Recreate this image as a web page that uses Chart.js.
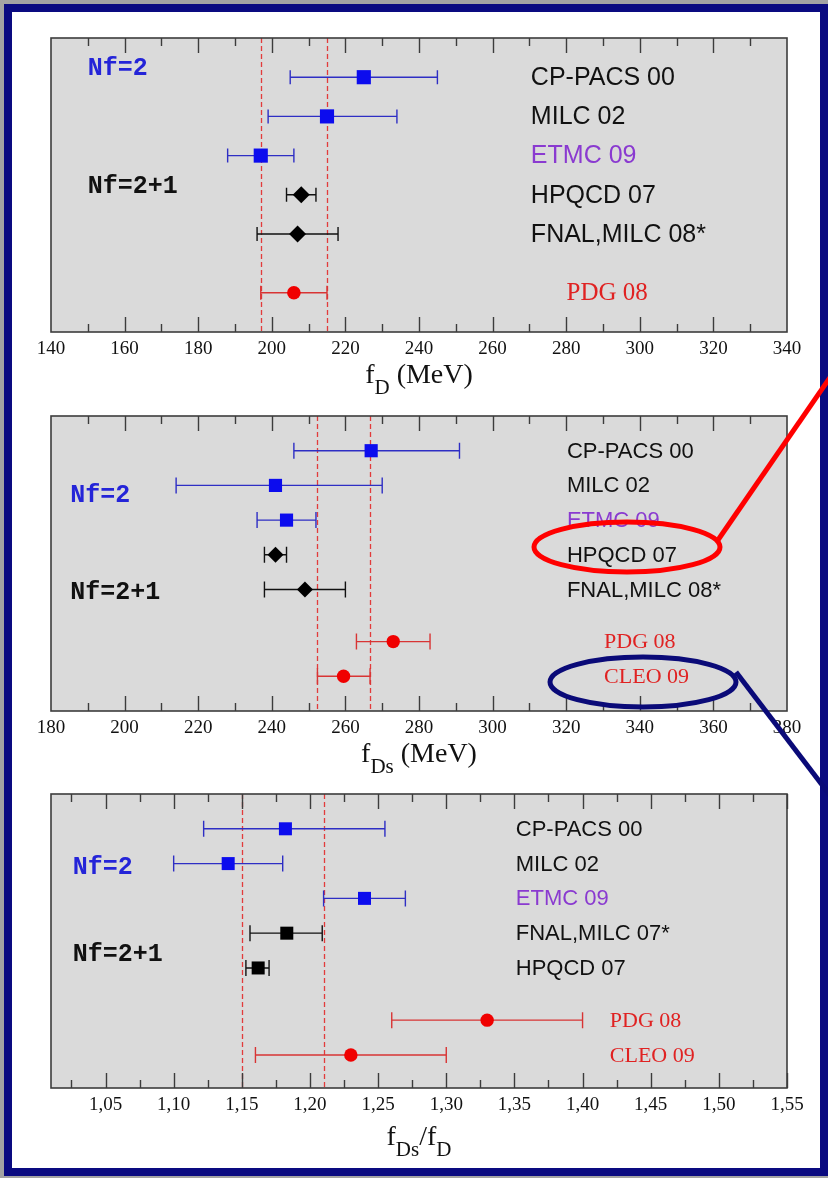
<!DOCTYPE html>
<html>
<head>
<meta charset="utf-8">
<script src="https://cdn.jsdelivr.net/npm/chart.js@4/dist/chart.umd.min.js"></script>
<style>
  html, body { margin: 0; padding: 0; }
  body { width: 828px; height: 1178px; background: #a3a3a3; position: relative; overflow: hidden; }
  #frame { position: absolute; left: 4px; top: 4px; width: 808px; height: 1156px; border: 8px solid #0a0a80; background: #fff; }
  canvas { position: absolute; left: 0; }
  #fdChart { top: 0; z-index: 1; }
  #fdsChart { top: 340px; z-index: 3; }
  #ratioChart { top: 760px; z-index: 2; }
</style>
</head>
<body>
<div id="frame"></div>
<canvas id="fdChart" width="828" height="400"></canvas>
<canvas id="fdsChart" width="828" height="490"></canvas>
<canvas id="ratioChart" width="828" height="418"></canvas>
<script>
// f_D (MeV)
const fdLabels = ['CP-PACS 00', 'MILC 02', 'ETMC 09', 'HPQCD 07', 'FNAL,MILC 08*', 'PDG 08'];
const fdCentral = [225, 215, 197, 208, 207, 206];
const fdLow = [205, 199, 188, 204, 196, 197];
const fdHigh = [245, 234, 206, 212, 218, 215];
const fdRows = [1, 2, 3, 4, 5, 6.5];
const fdGroups = ['nf2', 'nf2', 'nf2', 'nf21', 'nf21', 'exp'];
const fdBand = [197, 215];
const fdMajorTicks = [160, 180, 200, 220, 240, 260, 280, 300, 320];
const fdMinorTicks = [150, 170, 190, 210, 230, 250, 270, 290, 310, 330];

// f_Ds (MeV)
const fdsLabels = ['CP-PACS 00', 'MILC 02', 'ETMC 09', 'HPQCD 07', 'FNAL,MILC 08*', 'PDG 08', 'CLEO 09'];
const fdsCentral = [267, 241, 244, 241, 249, 273, 259.5];
const fdsLow = [246, 214, 236, 238, 238, 263, 252.4];
const fdsHigh = [291, 270, 252, 244, 260, 283, 266.7];
const fdsRows = [1, 2, 3, 4, 5, 6.5, 7.5];
const fdsGroups = ['nf2', 'nf2', 'nf2', 'nf21', 'nf21', 'exp', 'exp'];
const fdsBand = [252.4, 266.7];
const fdsMajorTicks = [200, 220, 240, 260, 280, 300, 320, 340, 360];
const fdsMinorTicks = [190, 210, 230, 250, 270, 290, 310, 330, 350, 370];

// f_Ds / f_D
const ratioLabels = ['CP-PACS 00', 'MILC 02', 'ETMC 09', 'FNAL,MILC 07*', 'HPQCD 07', 'PDG 08', 'CLEO 09'];
const ratioCentral = [1.182, 1.14, 1.24, 1.183, 1.162, 1.33, 1.23];
const ratioLow = [1.122, 1.10, 1.21, 1.156, 1.153, 1.26, 1.16];
const ratioHigh = [1.255, 1.18, 1.27, 1.209, 1.170, 1.40, 1.30];
const ratioRows = [1, 2, 3, 4, 5, 6.5, 7.5];
const ratioGroups = ['nf2', 'nf2', 'nf2', 'nf21sq', 'nf21sq', 'exp', 'exp'];
const ratioBand = [1.15, 1.21];
const ratioTickLabels = [1.05, 1.10, 1.15, 1.20, 1.25, 1.30, 1.35, 1.40, 1.45, 1.50, 1.55];
const ratioMinorTicks = [1.025, 1.075, 1.125, 1.175, 1.225, 1.275, 1.325, 1.375, 1.425, 1.475, 1.525];

const groupStyles = {
    nf2: { pointStyle: 'rect', color: '#0c0cee', bar: '#2e2ec4' },
    nf21: { pointStyle: 'rectRot', color: '#000000', bar: '#111111' },
    nf21sq: { pointStyle: 'rect', color: '#000000', bar: '#111111' },
    exp: { pointStyle: 'circle', color: '#f00000', bar: '#d83434' }
};

const SANS = '"Liberation Sans", Arial, sans-serif';
const SERIF = '"Liberation Serif", "Times New Roman", serif';
const MONO = '"Liberation Mono", "Courier New", monospace';

function buildDatasets(central, low, high, rows, groups, radius) {
    const order = ['nf2', 'nf21', 'nf21sq', 'exp'];
    return order.filter(g => groups.includes(g)).map(g => {
        const st = groupStyles[g];
        const data = [];
        central.forEach((v, i) => {
            if (groups[i] === g) data.push({ x: v, y: rows[i], xMin: low[i], xMax: high[i] });
        });
        return {
            label: g,
            data: data,
            pointStyle: st.pointStyle,
            pointRadius: radius[st.pointStyle],
            pointBackgroundColor: st.color,
            pointBorderColor: st.color,
            pointBorderWidth: 0,
            barColor: st.bar,
            showLine: false
        };
    });
}

const panelDecor = {
    id: 'panelDecor',
    beforeDraw(chart, args, opts) {
        const { ctx, chartArea: a } = chart;
        ctx.save();
        ctx.fillStyle = '#dadada';
        ctx.fillRect(a.left, a.top, a.right - a.left, a.bottom - a.top);
        ctx.restore();
    },
    beforeDatasetsDraw(chart, args, opts) {
        const { ctx, chartArea: a } = chart;
        const xs = chart.scales.x, ys = chart.scales.y;
        ctx.save();
        // dashed band lines
        ctx.strokeStyle = '#e23b3b';
        ctx.lineWidth = 1.3;
        ctx.setLineDash([5, 3]);
        opts.band.forEach(v => {
            const px = Math.round(xs.getPixelForValue(v)) + 0.5;
            ctx.beginPath();
            ctx.moveTo(px, a.top);
            ctx.lineTo(px, a.bottom);
            ctx.stroke();
        });
        ctx.setLineDash([]);
        // error bars
        chart.data.datasets.forEach(ds => {
            ctx.strokeStyle = ds.barColor;
            ctx.lineWidth = 1.4;
            ds.data.forEach(p => {
                const y = ys.getPixelForValue(p.y);
                const x0 = xs.getPixelForValue(p.xMin);
                const x1 = xs.getPixelForValue(p.xMax);
                ctx.beginPath();
                ctx.moveTo(x0, y);
                ctx.lineTo(x1, y);
                ctx.moveTo(x0, y - opts.cap);
                ctx.lineTo(x0, y + opts.cap);
                ctx.moveTo(x1, y - opts.cap);
                ctx.lineTo(x1, y + opts.cap);
                ctx.stroke();
            });
        });
        ctx.restore();
    },
    afterDatasetsDraw(chart, args, opts) {
        const { ctx, chartArea: a } = chart;
        const xs = chart.scales.x, ys = chart.scales.y;
        ctx.save();
        // frame
        ctx.strokeStyle = '#3c3c3c';
        ctx.lineWidth = 1.6;
        ctx.strokeRect(a.left, a.top, a.right - a.left, a.bottom - a.top);
        // inward tick marks, top and bottom
        ctx.lineWidth = 1.4;
        const marks = (vals, len) => vals.forEach(v => {
            const px = Math.round(xs.getPixelForValue(v)) + 0.5;
            ctx.beginPath();
            ctx.moveTo(px, a.top);
            ctx.lineTo(px, a.top + len);
            ctx.moveTo(px, a.bottom);
            ctx.lineTo(px, a.bottom - len);
            ctx.stroke();
        });
        marks(opts.majors, 15);
        marks(opts.minors, 8);
        // row labels
        ctx.textBaseline = 'middle';
        ctx.textAlign = 'left';
        opts.names.forEach((name, i) => {
            const exp = opts.groups[i] === 'exp';
            ctx.font = exp ? opts.nameSize + 'px ' + SERIF : opts.nameSize + 'px ' + SANS;
            ctx.fillStyle = exp ? '#e02222' : (name.startsWith('ETMC') ? '#8a3ad0' : '#111111');
            const x = xs.getPixelForValue(exp ? opts.expX : opts.nameX);
            ctx.fillText(name, x, ys.getPixelForValue(opts.rows[i]) + 1);
        });
        // Nf labels
        ctx.font = 'bold 25px ' + MONO;
        opts.nf.forEach(n => {
            ctx.fillStyle = n.color;
            ctx.fillText(n.text, xs.getPixelForValue(n.x), ys.getPixelForValue(n.row));
        });
        // axis title with subscripts
        ctx.textBaseline = 'alphabetic';
        const mainFont = '28px ' + SERIF, subFont = '21px ' + SERIF;
        let width = 0;
        opts.title.forEach(part => {
            ctx.font = part.sub ? subFont : mainFont;
            width += ctx.measureText(part.text).width;
        });
        let tx = (a.left + a.right) / 2 - width / 2;
        const base = a.bottom + opts.titleOffset;
        ctx.fillStyle = '#111111';
        opts.title.forEach(part => {
            ctx.font = part.sub ? subFont : mainFont;
            ctx.fillText(part.text, tx, part.sub ? base + 11 : base);
            tx += ctx.measureText(part.text).width;
        });
        ctx.restore();
    }
};

const highlights = {
    id: 'highlights',
    afterDraw(chart) {
        const ctx = chart.ctx;
        ctx.save();
        ctx.lineWidth = 5;
        ctx.strokeStyle = '#ff0000';
        ctx.beginPath();
        ctx.ellipse(627, 207, 93, 25, 0, 0, Math.PI * 2);
        ctx.stroke();
        ctx.beginPath();
        ctx.moveTo(718, 200);
        ctx.lineTo(842, 20);
        ctx.stroke();
        ctx.strokeStyle = '#0a0a78';
        ctx.beginPath();
        ctx.ellipse(643, 342, 93, 25, 0, 0, Math.PI * 2);
        ctx.stroke();
        ctx.beginPath();
        ctx.moveTo(736, 332);
        ctx.lineTo(842, 471);
        ctx.stroke();
        ctx.restore();
    }
};

function createPanel(id, cfg) {
    const plugins = [panelDecor];
    if (cfg.highlight) plugins.push(highlights);
    return new Chart(document.getElementById(id), {
        type: 'scatter',
        data: { datasets: cfg.datasets },
        plugins: plugins,
        options: {
            responsive: false,
            animation: false,
            devicePixelRatio: 1,
            layout: { padding: cfg.padding },
            plugins: {
                legend: { display: false },
                tooltip: { enabled: false },
                panelDecor: cfg.decor
            },
            scales: {
                x: {
                    type: 'linear',
                    position: 'bottom',
                    min: cfg.min,
                    max: cfg.max,
                    grid: { display: false, drawTicks: false },
                    border: { display: false },
                    afterFit: s => { s.height = 60; },
                    afterBuildTicks: cfg.tickValues ? s => { s.ticks = cfg.tickValues.map(v => ({ value: v })); } : undefined,
                    ticks: {
                        stepSize: cfg.step,
                        autoSkip: false,
                        maxRotation: 0,
                        padding: 6,
                        color: '#111111',
                        font: { family: SERIF, size: 19 },
                        callback: cfg.format || (v => v)
                    }
                },
                y: { type: 'linear', reverse: true, min: 0, max: cfg.ymax, display: false }
            }
        }
    });
}

document.addEventListener('DOMContentLoaded', () => {
    createPanel('fdChart', {
        datasets: buildDatasets(fdCentral, fdLow, fdHigh, fdRows, fdGroups, { rect: 10, rectRot: 8.5, circle: 6.8 }),
        padding: { left: 51, right: 41, top: 38, bottom: 8 },
        min: 140, max: 340, step: 20, ymax: 7.5,
        decor: {
            band: fdBand, majors: fdMajorTicks, minors: fdMinorTicks, cap: 7,
            names: fdLabels, rows: fdRows, groups: fdGroups, nameX: 270.4, expX: 280.1, nameSize: 25,
            nf: [{ text: 'Nf=2', x: 150, row: 0.79, color: '#2424d8' }, { text: 'Nf=2+1', x: 150, row: 3.8, color: '#111111' }],
            title: [{ text: 'f' }, { text: 'D', sub: true }, { text: ' (MeV)' }],
            titleOffset: 51
        }
    });

    createPanel('fdsChart', {
        datasets: buildDatasets(fdsCentral, fdsLow, fdsHigh, fdsRows, fdsGroups, { rect: 9.3, rectRot: 8, circle: 6.7 }),
        padding: { left: 51, right: 41, top: 76, bottom: 59 },
        min: 180, max: 380, step: 20, ymax: 8.5,
        highlight: true,
        decor: {
            band: fdsBand, majors: fdsMajorTicks, minors: fdsMinorTicks, cap: 8,
            names: fdsLabels, rows: fdsRows, groups: fdsGroups, nameX: 320.2, expX: 330.3, nameSize: 22,
            nf: [{ text: 'Nf=2', x: 185.2, row: 2.3, color: '#2424d8' }, { text: 'Nf=2+1', x: 185.2, row: 5.08, color: '#111111' }],
            title: [{ text: 'f' }, { text: 'Ds', sub: true }, { text: ' (MeV)' }],
            titleOffset: 51
        }
    });

    createPanel('ratioChart', {
        datasets: buildDatasets(ratioCentral, ratioLow, ratioHigh, ratioRows, ratioGroups, { rect: 9.2, rectRot: 8, circle: 6.7 }),
        padding: { left: 51, right: 41, top: 34, bottom: 30 },
        min: 1.01, max: 1.55, ymax: 8.45,
        tickValues: ratioTickLabels,
        format: v => v.toFixed(2).replace('.', ','),
        decor: {
            band: ratioBand, majors: ratioTickLabels, minors: ratioMinorTicks, cap: 8,
            names: ratioLabels, rows: ratioRows, groups: ratioGroups, nameX: 1.351, expX: 1.42, nameSize: 22,
            nf: [{ text: 'Nf=2', x: 1.026, row: 2.12, color: '#2424d8' }, { text: 'Nf=2+1', x: 1.026, row: 4.63, color: '#111111' }],
            title: [{ text: 'f' }, { text: 'Ds', sub: true }, { text: '/f' }, { text: 'D', sub: true }],
            titleOffset: 57
        }
    });
});
</script>
</body>
</html>
